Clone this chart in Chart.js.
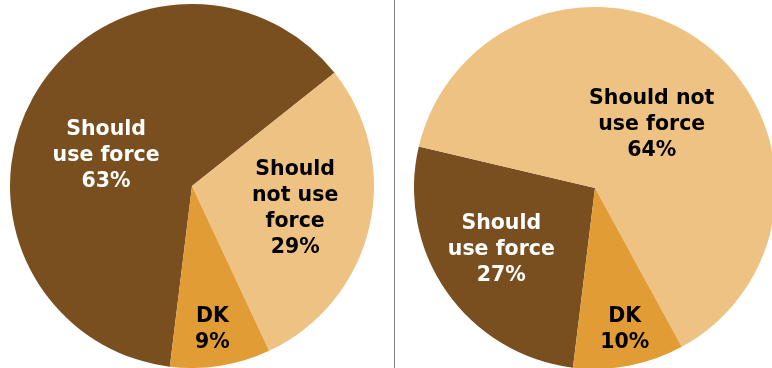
<!DOCTYPE html>
<html>
<head>
<meta charset="utf-8">
<script src="https://cdn.jsdelivr.net/npm/chart.js@4"></script>
<style>
  html, body { margin: 0; padding: 0; background: #fff; overflow: hidden; }
  body { width: 772px; height: 368px; position: relative; }
  .pie { position: absolute; }
  #leftBox { left: 10px; top: 4px; width: 364px; height: 364px; }
  #rightBox { left: 414px; top: 7px; width: 362px; height: 362px; }
  #divider { position: absolute; left: 394px; top: 0; width: 1px; height: 368px; background: #808080; }
</style>
</head>
<body>
<div class="pie" id="leftBox"><canvas id="leftPie"></canvas></div>
<div id="divider"></div>
<div class="pie" id="rightBox"><canvas id="rightPie"></canvas></div>
<script>
// Answer categories, same order in both pies
const categories = ["Should use force", "Should not use force", "DK"]
const leftValues = [63, 29, 9]
const rightValues = [27, 64, 10]

// Text lines for each slice label (percent is appended from the data)
const leftLabelLines = [["Should", "use force"], ["Should", "not use", "force"], ["DK"]]
const rightLabelLines = [["Should", "use force"], ["Should not", "use force"], ["DK"]]

const sliceColors = ["#7A4F20", "#EDC283", "#E29C35"]
const labelColors = ["#ffffff", "#000000", "#000000"]

// Draws multi-line labels inside each slice
const sliceLabels = {
  id: "sliceLabels",
  afterDatasetsDraw(chart, args, opts) {
    const ctx = chart.ctx
    const meta = chart.getDatasetMeta(0)
    const values = chart.data.datasets[0].data
    ctx.save()
    ctx.font = "bold 20.5px 'DejaVu Sans', Verdana, sans-serif"
    ctx.textAlign = "center"
    ctx.textBaseline = "middle"
    meta.data.forEach((arc, i) => {
      const p = arc.getProps(["x", "y", "startAngle", "endAngle", "outerRadius"], true)
      const place = opts.place[i]
      const mid = (p.startAngle + p.endAngle) / 2 + place[1] * Math.PI / 180
      const r = p.outerRadius * place[0]
      const cx = p.x + Math.cos(mid) * r
      const cy = p.y + Math.sin(mid) * r
      const lines = opts.lines[i].concat([values[i] + "%"])
      const lh = 26
      const top = cy - (lines.length - 1) * lh / 2
      ctx.fillStyle = labelColors[i]
      lines.forEach((t, k) => ctx.fillText(t, cx, top + k * lh))
    })
    ctx.restore()
  }
}

function makePie(id, values, lines, place) {
  new Chart(document.getElementById(id), {
    type: "pie",
    data: {
      labels: categories,
      datasets: [{
        data: values,
        backgroundColor: sliceColors,
        borderWidth: 0,
        hoverOffset: 0
      }]
    },
    options: {
      responsive: true,
      maintainAspectRatio: false,
      animation: false,
      rotation: 187,
      layout: { padding: 0 },
      plugins: {
        legend: { display: false },
        tooltip: { enabled: false },
        sliceLabels: { lines: lines, place: place }
      }
    },
    plugins: [sliceLabels]
  })
}

makePie("leftPie", leftValues, leftLabelLines, [[0.5, -10], [0.58, -1], [0.8, 1]])
makePie("rightPie", rightValues, rightLabelLines, [[0.62, 1.5], [0.47, 4.5], [0.8, -1]])
</script>
</body>
</html>
